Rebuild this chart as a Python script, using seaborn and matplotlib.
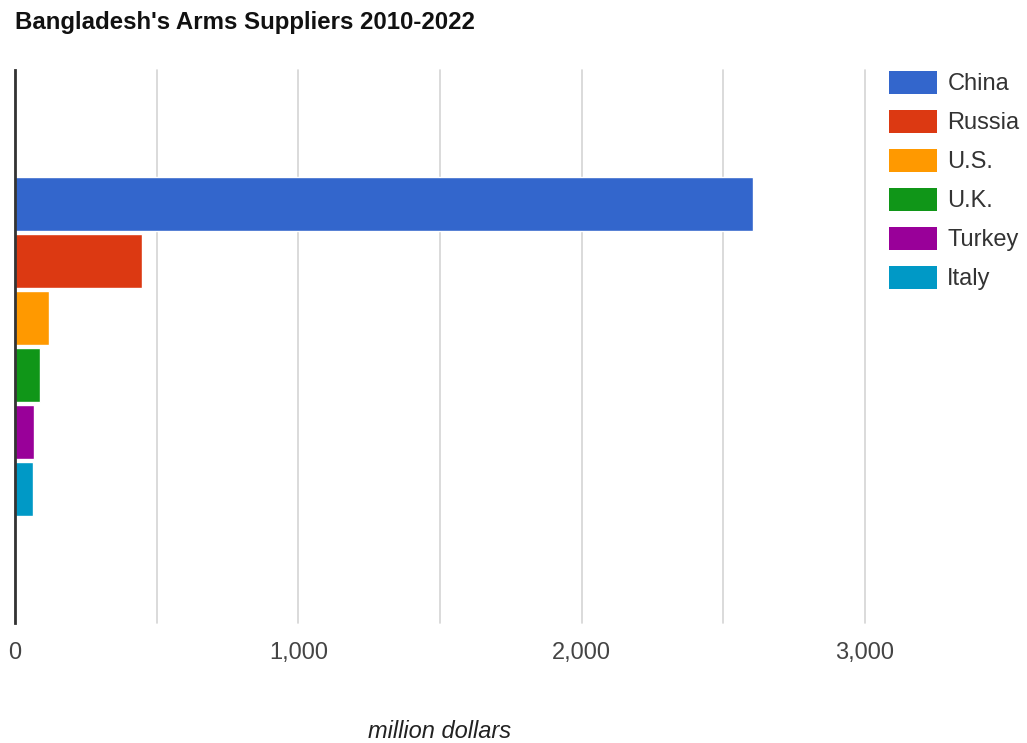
import matplotlib
matplotlib.use("Agg")
import matplotlib.pyplot as plt
from matplotlib.patches import Patch
from matplotlib.ticker import FuncFormatter, MultipleLocator
import numpy as np
import pandas as pd
import seaborn as sns

# Arms deliveries to Bangladesh, 2010-2022 (million dollars)
countries = ["China", "Russia", "U.S.", "U.K.", "Turkey", "Italy"]
values = [2606, 449, 121, 88, 68, 62]
colors = ["#3366cc", "#dc3912", "#ff9900", "#109618", "#990099", "#0099c6"]
x_ticks = [0, 1000, 2000, 3000]
title = "Bangladesh's Arms Suppliers 2010-2022"
x_label = "million dollars"

sns.set_theme(style="white")
plt.rcParams["font.family"] = ["Liberation Sans", "DejaVu Sans"]

df = pd.DataFrame({
    "group": ["Suppliers"] * len(countries),
    "country": countries,
    "value": values,
})

W, H = 1027, 743
fig = plt.figure(figsize=(W / 100, H / 100), dpi=100)
ax = fig.add_axes([15 / W, 1 - 623 / H, 850 / W, (623 - 70) / H])

sns.barplot(
    data=df, x="value", y="group", hue="country",
    hue_order=countries, palette=colors, orient="h",
    width=0.618, gap=0.05, saturation=1, legend=False, ax=ax,
)

ax.set_xlim(0, 3000)
ax.set_ylim(0.5, -0.5)
ax.set_ylabel("")
ax.set_yticks([])

ax.set_xticks(x_ticks)
ax.xaxis.set_minor_locator(MultipleLocator(500))
ax.xaxis.set_major_formatter(FuncFormatter(lambda v, _: f"{v:,.0f}"))
ax.tick_params(axis="x", which="both", length=0, pad=14,
               labelsize=17, labelcolor="#444444")
ax.grid(axis="x", which="both", color="#d4d4d4", linewidth=1.2)
for tick in ax.xaxis.get_major_ticks() + ax.xaxis.get_minor_ticks():
    tick.gridline.set_clip_on(False)
ax.set_axisbelow(True)

for side in ["top", "right", "bottom"]:
    ax.spines[side].set_visible(False)
ax.spines["left"].set_color("#333333")
ax.spines["left"].set_linewidth(2)
ax.spines["left"].set_zorder(5)

ax.set_xlabel(x_label, fontsize=17, style="italic", color="#222222",
              labelpad=40)

fig.text(15 / W, 1 - 22 / H, title, fontsize=17.3, fontweight="bold",
         color="#111111", ha="left", va="center")

handles = [Patch(facecolor=c, edgecolor="none") for c in colors]
ax.legend(
    handles, countries, loc="upper left",
    bbox_to_anchor=(889 / W, 1 - 71 / H), bbox_transform=fig.transFigure,
    frameon=False, fontsize=17, handlelength=2.05, handleheight=1.1,
    handletextpad=0.42, labelspacing=0.62, borderpad=0, borderaxespad=0,
    labelcolor="#333333",
)

fig.savefig("out.png", dpi=100, facecolor="white")
